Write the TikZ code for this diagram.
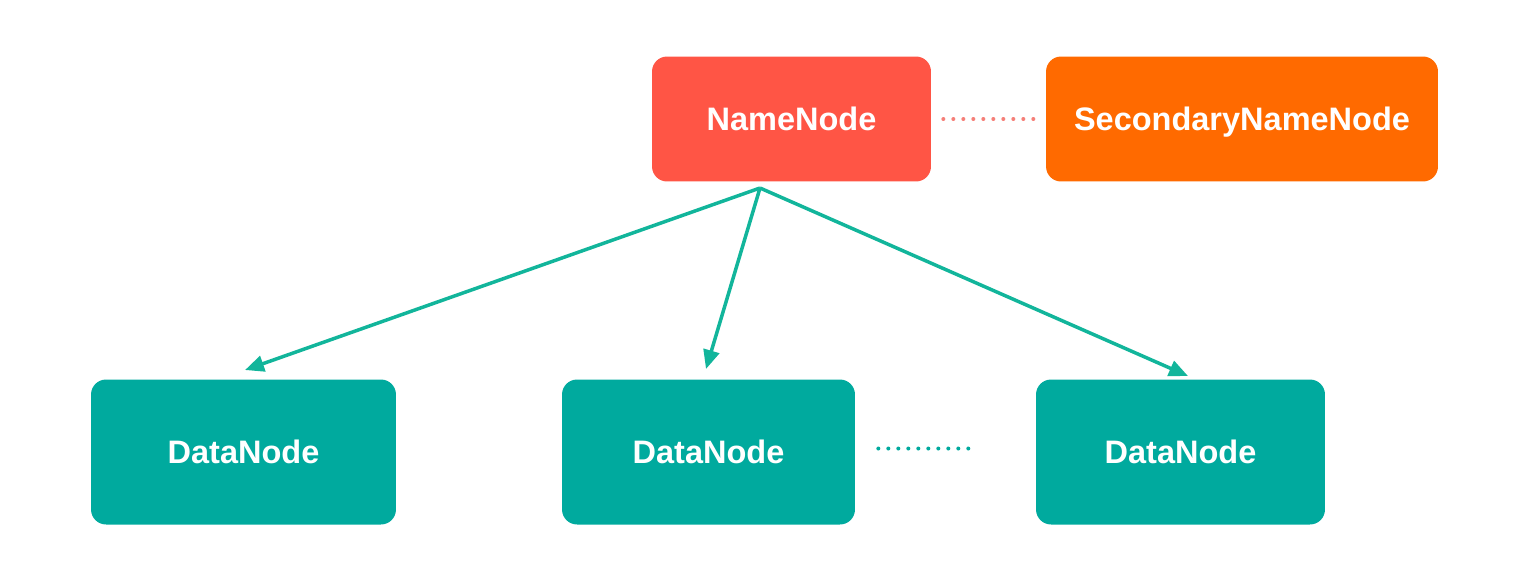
\documentclass[tikz,border=0pt]{standalone}
\usepackage{fontspec}
\setmainfont{Liberation Sans}
\usetikzlibrary{arrows.meta}
\definecolor{nnred}{HTML}{FF5545}
\definecolor{snnorange}{HTML}{FF6A00}
\definecolor{dnteal}{HTML}{00AA9E}
\definecolor{arrowteal}{HTML}{12B59B}
\definecolor{dotred}{HTML}{F57F78}
\begin{document}
\begin{tikzpicture}[x=0.02cm,y=-0.02cm,
  box/.style={rounded corners=0.3cm, text=white, inner sep=0pt,
    text height=0.47cm, text depth=0pt,
    font=\fontsize{18.5}{22}\selectfont\bfseries},
  namebox/.style={box, fill=nnred, minimum width=5.58cm, minimum height=2.5cm},
  secbox/.style={box, fill=snnorange, minimum width=7.84cm, minimum height=2.5cm},
  databox/.style={box, fill=dnteal, minimum height=2.9cm},
  link/.style={draw=arrowteal, line width=0.07cm,
    -{Triangle[length=0.38cm,width=0.32cm]}},
  dots/.style={line width=0.08cm, line cap=round, dash pattern=on 0pt off 0.2cm}]
  \useasboundingbox (0,0) rectangle (1534,566);

  % master nodes
  \node[namebox] (nn) at (791.5,119) {NameNode};
  \node[secbox] (snn) at (1242,119) {SecondaryNameNode};

  % worker nodes
  \node[databox, minimum width=6.1cm] (dn1) at (243.5,452) {DataNode};
  \node[databox, minimum width=5.86cm] (dn2) at (708.5,452) {DataNode};
  \node[databox, minimum width=5.78cm] (dn3) at (1180.5,452) {DataNode};

  % arrow endpoints
  \coordinate (src) at (760,188);
  \coordinate (t1) at (245,370);
  \coordinate (t2) at (706,369);
  \coordinate (t3) at (1188,376);

  \draw[link] (src) -- (t1);
  \draw[link] (src) -- (t2);
  \draw[link] (src) -- (t3);

  % dotted links
  \draw[dots, draw=dotred] ([xshift=0.24cm]nn.east) -- ([xshift=-0.22cm]snn.west);
  \draw[dots, draw=dnteal] ([xshift=0.46cm,yshift=0.07cm]dn2.east) -- ([xshift=-1.32cm,yshift=0.07cm]dn3.west);
\end{tikzpicture}
\end{document}
